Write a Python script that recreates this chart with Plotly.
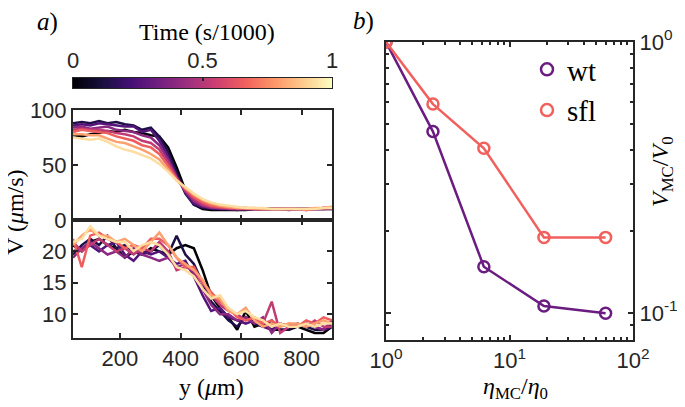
import plotly.graph_objects as go
from plotly.colors import sample_colorscale

# ---- data -----------------------------------------------------------------
# position across the channel (um)
y_pos = [45, 74, 102, 131, 159, 188, 216, 245, 273, 302, 330, 359, 387, 416, 444,
         473, 501, 530, 558, 587, 615, 644, 672, 701, 729, 758, 786, 815, 843, 872, 900]

# time of each profile (s/1000)
times = [0.0, 0.13, 0.26, 0.4, 0.53, 0.66, 0.8, 0.93]

# wt velocity profiles (um/s)
v_wt_profiles = [
    [77, 76, 78, 79, 81, 80, 82, 80, 79, 77, 76, 66, 48, 27, 14, 10, 9, 9, 9, 9, 9, 10, 10, 10, 10, 10, 10, 10, 10, 10, 10],
    [88, 89, 88, 90, 88, 89, 87, 86, 82, 84, 76, 62, 43, 24, 14, 11, 10, 10, 10, 9, 10, 10, 10, 10, 10, 10, 10, 10, 10, 11, 11],
    [86, 87, 86, 88, 87, 86, 85, 85, 80, 82, 72, 58, 40, 25, 15, 12, 11, 10, 10, 10, 10, 10, 10, 10, 10, 9, 10, 10, 10, 10, 11],
    [84, 85, 83, 84, 85, 82, 81, 80, 77, 75, 68, 55, 39, 26, 17, 13, 11, 11, 10, 10, 10, 10, 10, 10, 10, 10, 10, 9, 10, 10, 10],
    [82, 83, 82, 82, 81, 79, 78, 76, 72, 70, 64, 52, 38, 27, 19, 14, 12, 11, 11, 10, 10, 10, 10, 10, 10, 10, 10, 10, 10, 11, 11],
    [80, 82, 81, 80, 79, 76, 74, 72, 68, 66, 60, 49, 37, 28, 21, 16, 13, 12, 11, 11, 11, 10, 10, 10, 10, 10, 10, 9, 10, 11, 11],
    [78, 78, 77, 77, 74, 71, 70, 67, 64, 60, 55, 46, 36, 29, 23, 18, 15, 13, 12, 11, 11, 11, 10, 10, 10, 10, 10, 10, 11, 11, 12],
    [75, 74, 73, 74, 71, 67, 64, 62, 59, 56, 51, 44, 36, 30, 24, 19, 16, 14, 13, 12, 11, 11, 11, 10, 10, 10, 10, 10, 10, 11, 11],
]

# sfl velocity profiles (um/s)
v_sfl_profiles = [
    [21, 20, 21.5, 22, 21, 20.5, 19, 20, 19.5, 20.5, 20, 19.5, 20.5, 21, 20.5, 17, 13, 11, 9.5, 7.5, 10.5, 8, 8.5, 7.5, 7.5, 7.5, 8, 7.5, 7, 7, 8],
    [19.5, 21, 22, 21, 22.5, 20.5, 21, 20, 19.5, 20, 21, 19.5, 22.5, 19.5, 18, 15, 12, 10.5, 9, 8, 9.5, 8.5, 8, 9, 7.5, 7.5, 8.5, 8, 7.5, 7.5, 8.5],
    [20, 20.5, 21, 20, 21, 21.5, 19.5, 18.5, 20, 19.5, 20, 19, 18, 18.5, 16, 13, 10.5, 11, 9.5, 9, 8.5, 9, 8, 7.5, 8.5, 8, 8, 8.5, 8, 7.5, 8],
    [19, 20.5, 21.5, 20.5, 19.5, 20, 19, 20.5, 19.5, 19, 18.5, 19, 17.5, 18, 16.5, 14, 11.5, 10, 10, 9, 9.5, 8.5, 9.5, 7, 8.5, 8, 8, 8.5, 8, 7.5, 9],
    [21.5, 20, 21, 22, 21, 20, 20.5, 19.5, 20.5, 20, 21.5, 20, 17, 17.5, 17, 15, 13, 11.5, 10.5, 10, 9, 9.5, 8.5, 12, 7, 8, 8.5, 8, 9, 8, 8],
    [22, 17.5, 22.5, 23, 22, 21.5, 20.5, 21, 20.5, 22, 22, 21, 19, 17.5, 17.5, 15, 13.5, 12, 11, 9.5, 9, 9.5, 8.5, 9, 8, 8.5, 8, 9, 8.5, 9.5, 9],
    [21, 22.5, 23.5, 22.5, 22.5, 21.5, 22, 21, 20, 21.5, 23, 21, 19, 18, 17, 15.5, 13, 12.5, 10.5, 10, 11, 9, 8, 8.5, 8, 8.5, 8.5, 8, 8.5, 9, 8.5],
    [21.5, 22, 24, 22.5, 22, 21.5, 21.5, 20, 21, 21.5, 21, 19.5, 17.5, 17, 16, 14, 12.5, 13, 11, 10, 10.5, 9.5, 9, 8, 8.5, 8, 8, 8.5, 8, 8.5, 8.5],
]

# panel b
eta_ratio = [1, 2.4, 6.2, 19, 60]
v_ratio_wt = [1, 0.467, 0.148, 0.106, 0.0997]
v_ratio_sfl = [1, 0.59, 0.405, 0.19, 0.19]

# colour bar samples
cbar_t = [i / 200 for i in range(201)]

# ---- layout helpers -------------------------------------------------------
W, H = 685, 407
OFF = 8  # page body margin
def fx(p): return (p - OFF) / W
def fy(p): return 1 - (p - OFF) / H

INK = "#262626"
SANS = "Liberation Sans"
SERIF = "Liberation Serif"
WT_COL = "#6a1c81"
SFL_COL = "#f1605d"

line_cols = sample_colorscale("Magma", times)

fig = go.Figure()

for t_col, prof in zip(line_cols, v_wt_profiles):
    fig.add_trace(go.Scatter(x=y_pos, y=prof, mode="lines", line=dict(color=t_col, width=2.5),
                             xaxis="x", yaxis="y", showlegend=False))
for t_col, prof in zip(line_cols, v_sfl_profiles):
    fig.add_trace(go.Scatter(x=y_pos, y=prof, mode="lines", line=dict(color=t_col, width=2.5),
                             xaxis="x2", yaxis="y2", showlegend=False))

fig.add_trace(go.Heatmap(z=[cbar_t], x=cbar_t, y=[0], colorscale="Magma", zmin=0, zmax=1,
                         showscale=False, xaxis="x4", yaxis="y4", hoverinfo="skip"))

for name, vals, col in [("wt", v_ratio_wt, WT_COL), ("sfl", v_ratio_sfl, SFL_COL)]:
    fig.add_trace(go.Scatter(x=eta_ratio, y=vals, mode="lines+markers", xaxis="x3", yaxis="y3",
                             line=dict(color=col, width=2.5),
                             marker=dict(symbol="circle-open", size=11, color=col, line=dict(width=2.5)),
                             showlegend=False))
    # legend entry shows only the marker
    fig.add_trace(go.Scatter(x=[None], y=[None], mode="markers", name=name, xaxis="x3", yaxis="y3",
                             marker=dict(symbol="circle-open", size=12, color=col, line=dict(width=2.5))))

ax = dict(showline=True, linewidth=2, linecolor=INK, mirror="allticks", ticks="inside", ticklen=5,
          tickwidth=1.5, tickcolor=INK, showgrid=False, zeroline=False, automargin=False,
          tickfont=dict(family=SANS, size=22, color=INK))

left_dom = [fx(73), fx(332)]
fig.update_layout(
    width=W, height=H, margin=dict(l=0, r=0, t=0, b=0, pad=0, autoexpand=False),
    paper_bgcolor="white", plot_bgcolor="white",
    xaxis=dict(ax, domain=left_dom, anchor="y", range=[45, 900], tickvals=[200, 400, 600, 800],
               showticklabels=False),
    yaxis=dict(ax, domain=[fy(220), fy(110)], anchor="x", range=[0, 100], tickvals=[0, 50, 100]),
    xaxis2=dict(ax, domain=left_dom, anchor="y2", range=[45, 900], tickvals=[200, 400, 600, 800]),
    yaxis2=dict(ax, domain=[fy(338), fy(220)], anchor="x2", range=[6.2, 25], tickvals=[10, 15, 20]),
    xaxis3=dict(ax, domain=[fx(386), fx(633)], anchor="y3", type="log", range=[0, 2],
                tickvals=[1, 10, 100], ticktext=["10<sup>0</sup>", "10<sup>1</sup>", "10<sup>2</sup>"],
                minor=dict(ticks="inside", ticklen=3, tickcolor=INK,
                           tickvals=[2, 3, 4, 5, 6, 7, 8, 9, 20, 30, 40, 50, 60, 70, 80, 90])),
    yaxis3=dict(ax, domain=[fy(340), fy(42)], anchor="x3", type="log", range=[-1.1, 0], side="right",
                tickvals=[0.1, 1], ticktext=["10<sup>-1</sup>", "10<sup>0</sup>"],
                minor=dict(ticks="inside", ticklen=3, tickcolor=INK,
                           tickvals=[0.08, 0.09, 0.2, 0.3, 0.4, 0.5, 0.6, 0.7, 0.8, 0.9])),
    xaxis4=dict(ax, domain=left_dom, anchor="y4", range=[0, 1], side="top", tickvals=[0, 0.5, 1],
                ticktext=["0", "0.5", "1"], ticklen=3, linewidth=1, mirror=True),
    yaxis4=dict(ax, domain=[fy(88), fy(78)], anchor="x4", range=[-0.5, 0.5], ticks="",
                showticklabels=False, linewidth=1, mirror=True),
    legend=dict(x=fx(527), y=fy(44), xanchor="left", yanchor="top", bgcolor="rgba(0,0,0,0)",
                font=dict(family=SERIF, size=29, color="black"), tracegroupgap=0),
)

ann = [
    ("<i>a</i>)", 47, 22, 0, 25),
    ("<i>b</i>)", 363, 21, 0, 25),
    ("Time (s/1000)", 207, 32, 0, 24),
    ("V (<i>μ</i>m/s)", 15, 212, -90, 24),
    ("y (<i>μ</i>m)", 211, 387, 0, 24),
    ("<i>η</i><sub>MC</sub>/<i>η</i><sub>0</sub>", 515, 388, 0, 24),
    ("<i>V</i><sub>MC</sub>/<i>V</i><sub>0</sub>", 662, 172, -90, 24),
]
for text, x, y, ang, size in ann:
    fig.add_annotation(text=text, x=fx(x), y=fy(y), xref="paper", yref="paper", showarrow=False,
                       xanchor="center", yanchor="middle", textangle=ang,
                       font=dict(family=SERIF, size=size, color="black"))

fig.write_html("out.html")
